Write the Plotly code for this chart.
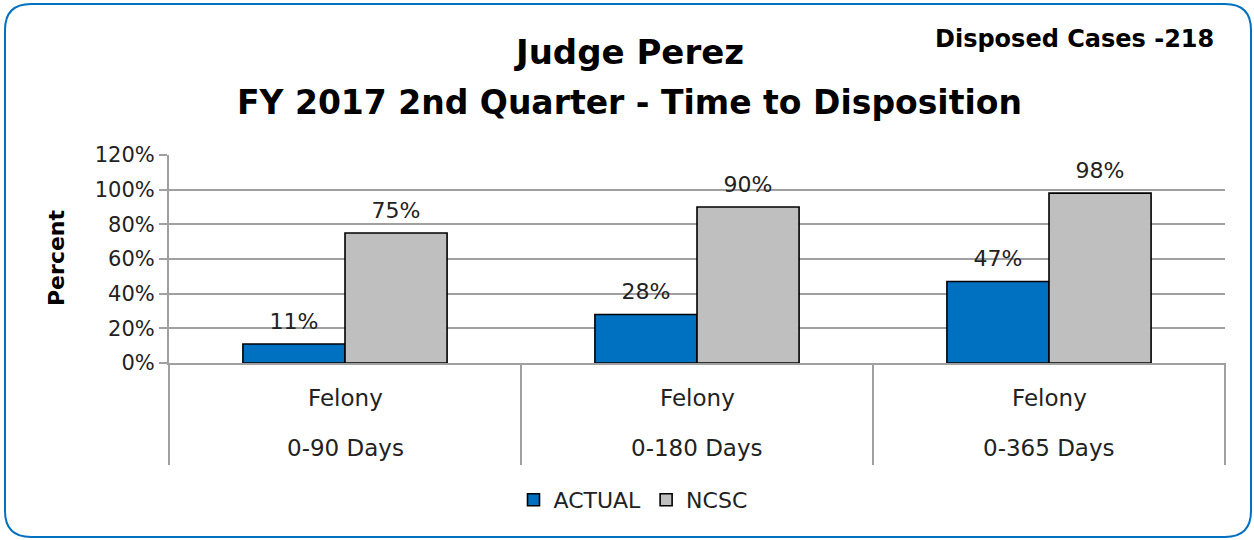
import plotly.graph_objects as go

categories = ["0-90 Days", "0-180 Days", "0-365 Days"]
case_type = ["Felony", "Felony", "Felony"]
actual = [11, 28, 47]
ncsc = [75, 90, 98]
y_ticks = [0, 20, 40, 60, 80, 100, 120]
y_tick_labels = [f"{v}%" for v in y_ticks]

W, H = 1254, 540
ML, MR, MT, MB = 169, 29, 155, 177
PW, PH = W - ML - MR, H - MT - MB
FONT = "DejaVu Sans"
GRID = "#A0A0A0"
BAR_GAP = 0.42


def px(x):
    return (x - ML) / PW


def py(y):
    return (H - MB - y) / PH


fig = go.Figure()
for name, vals, col in [("ACTUAL", actual, "#0070C0"), ("NCSC", ncsc, "#BFBFBF")]:
    fig.add_trace(go.Bar(
        name=name, x=categories, y=vals, offsetgroup=name,
        marker=dict(color=col, line=dict(color="#000000", width=1.6)),
    ))
for name, vals in [("ACTUAL", actual), ("NCSC", ncsc)]:
    fig.add_trace(go.Scatter(
        name=name + " labels", x=categories, y=vals, offsetgroup=name,
        mode="markers+text", showlegend=False, hoverinfo="skip",
        marker=dict(size=14, color="rgba(0,0,0,0)"),
        text=[f"{v}%" for v in vals], textposition="top center",
        textfont=dict(size=22, color="#222222", family=FONT), cliponaxis=False,
    ))

annotations = []
for c, t in zip(categories, case_type):
    annotations.append(dict(x=c, xref="x", y=py(398), yref="paper", text=t, showarrow=False,
                            xanchor="center", yanchor="middle",
                            font=dict(size=23, color="#222222", family=FONT)))
    annotations.append(dict(x=c, xref="x", y=py(448), yref="paper", text=c, showarrow=False,
                            xanchor="center", yanchor="middle",
                            font=dict(size=23, color="#222222", family=FONT)))

annotations += [
    dict(x=px(629), y=py(52), xref="paper", yref="paper", text="<b>Judge Perez</b>", showarrow=False,
         xanchor="center", yanchor="middle",
         font=dict(size=34, color="#000000", family=FONT)),
    dict(x=px(629), y=py(102), xref="paper", yref="paper",
         text="<b>FY 2017 2nd Quarter - Time to Disposition</b>", showarrow=False,
         xanchor="center", yanchor="middle",
         font=dict(size=33, color="#000000", family=FONT)),
    dict(x=px(1216), y=py(39), xref="paper", yref="paper", xanchor="right", yanchor="middle",
         text="<b>Disposed Cases -218</b>", showarrow=False,
         font=dict(size=24, color="#000000", family=FONT)),
    dict(x=px(56), y=py(258), xref="paper", yref="paper", text="<b>Percent</b>", textangle=-90,
         xanchor="center", yanchor="middle",
         showarrow=False, font=dict(size=22, color="#000000", family=FONT)),
]

shapes = []
for xd in [169, 521, 873, 1225]:
    shapes.append(dict(type="line", xref="paper", yref="paper", x0=px(xd), x1=px(xd),
                       y0=py(363), y1=py(465), line=dict(color=GRID, width=2)))

# rounded border
x0, x1, y0, y1, r = 5, 1251, 4, 537, 26
pts = [
    ("M", [(x0 + r, y0)]), ("L", [(x1 - r, y0)]), ("Q", [(x1, y0), (x1, y0 + r)]),
    ("L", [(x1, y1 - r)]), ("Q", [(x1, y1), (x1 - r, y1)]), ("L", [(x0 + r, y1)]),
    ("Q", [(x0, y1), (x0, y1 - r)]), ("L", [(x0, y0 + r)]), ("Q", [(x0, y0), (x0 + r, y0)]),
]
path = " ".join(cmd + " " + " ".join(f"{px(a):.5f},{py(b):.5f}" for a, b in p) for cmd, p in pts) + " Z"
shapes.append(dict(type="path", xref="paper", yref="paper", path=path,
                   line=dict(color="#0070C0", width=2)))

fig.update_layout(
    width=W, height=H, autosize=False,
    margin=dict(l=ML, r=MR, t=MT, b=MB, autoexpand=False),
    paper_bgcolor="white", plot_bgcolor="white",
    barmode="group", bargap=BAR_GAP, bargroupgap=0,
    scattermode="group", scattergap=BAR_GAP,
    font=dict(family=FONT, color="#222222"),
    showlegend=True,
    legend=dict(orientation="h", x=px(633), xanchor="center",
                y=py(500), yanchor="middle",
                font=dict(size=22, color="#222222", family=FONT), traceorder="normal"),
    annotations=annotations,
    shapes=shapes,
    xaxis=dict(showticklabels=False, showline=True, linecolor=GRID, linewidth=2,
               ticks="", range=[-0.5, 2.5], showgrid=False),
    yaxis=dict(range=[0, 120], tickvals=y_ticks, ticktext=y_tick_labels,
               showgrid=True, gridcolor=GRID, gridwidth=2,
               showline=True, linecolor=GRID, linewidth=2,
               ticks="outside", ticklen=8, tickcolor=GRID, tickwidth=2,
               tickfont=dict(size=21, color="#222222", family=FONT), zeroline=False),
)

fig.write_html("out.html", config={"displayModeBar": False},
               post_script="document.body.style.margin='0';document.body.style.padding='0';")
